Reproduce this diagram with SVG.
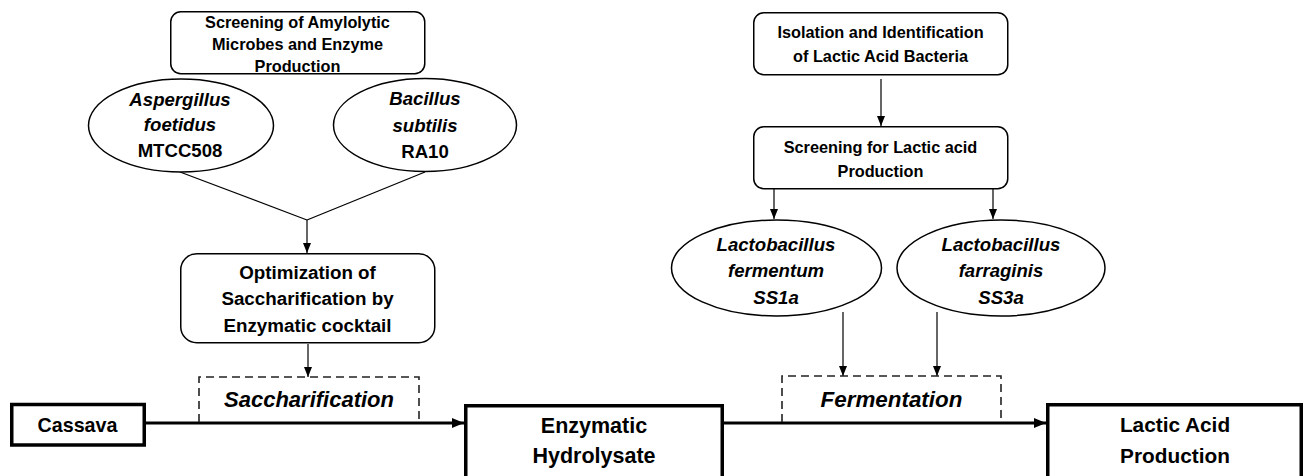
<svg xmlns="http://www.w3.org/2000/svg" width="1304" height="476" viewBox="0 0 1304 476">
<style>
text{font-family:"Liberation Sans",Arial,sans-serif;font-weight:bold;fill:#000;text-anchor:middle}
.s{font-size:16.3px}
.m{font-size:18.8px}
.e{font-size:18.6px}
.it{font-style:italic}
.l{font-size:21.5px}
.rb{fill:#fff;stroke:#000;stroke-width:1.5}
.tb{fill:#fff;stroke:#000;stroke-width:3.5}
.el{fill:#fff;stroke:#000;stroke-width:1.5}
.dash{fill:none;stroke:#222;stroke-width:1.6;stroke-dasharray:8 5}
.thin{fill:none;stroke:#000;stroke-width:1.2}
.thick{fill:none;stroke:#000;stroke-width:3.2}
</style>
<defs>
<marker id="ah" markerUnits="userSpaceOnUse" markerWidth="10" markerHeight="10" viewBox="0 0 10 10" refX="10" refY="5" orient="auto">
<path d="M0,1 L10,5 L0,9 Z" fill="#000"/>
</marker>
<marker id="ahb" markerUnits="userSpaceOnUse" markerWidth="12" markerHeight="12" viewBox="0 0 12 12" refX="12" refY="6" orient="auto">
<path d="M0,1 L12,6 L0,11 Z" fill="#000"/>
</marker>
</defs>

<g id="connectors">
<line class="thin" x1="180" y1="172" x2="307" y2="220"/>
<line class="thin" x1="425" y1="172" x2="307" y2="220"/>
<line class="thin" x1="307" y1="220" x2="307" y2="253" marker-end="url(#ah)"/>
<line class="thin" x1="308" y1="344" x2="308" y2="377" marker-end="url(#ah)"/>
<line class="thin" x1="881" y1="79" x2="881" y2="126" marker-end="url(#ah)"/>
<line class="thin" x1="774" y1="189" x2="774" y2="219" marker-end="url(#ah)"/>
<line class="thin" x1="993" y1="189" x2="993" y2="219" marker-end="url(#ah)"/>
<line class="thin" x1="843" y1="312" x2="843" y2="376" marker-end="url(#ah)"/>
<line class="thin" x1="937" y1="312" x2="937" y2="376" marker-end="url(#ah)"/>
<line class="thick" x1="146" y1="423" x2="464" y2="423" marker-end="url(#ahb)"/>
<line class="thick" x1="724" y1="423" x2="1046" y2="423" marker-end="url(#ahb)"/>
</g>

<g id="screening-amylolytic">
<rect class="rb" x="170.75" y="11.75" width="254" height="62" rx="10"/>
<text class="s" x="297.5" y="27.5">Screening of Amylolytic</text>
<text class="s" x="297.5" y="50">Microbes and Enzyme</text>
<text class="s" x="297.5" y="72">Production</text>
</g>

<g id="aspergillus">
<ellipse class="el" cx="181" cy="125.5" rx="92.5" ry="46.5"/>
<text class="e it" x="180" y="106">Aspergillus</text>
<text class="e it" x="180" y="131">foetidus</text>
<text class="e" x="180" y="157">MTCC508</text>
</g>

<g id="bacillus">
<ellipse class="el" cx="425" cy="125" rx="91.5" ry="46.5"/>
<text class="e it" x="425" y="105">Bacillus</text>
<text class="e it" x="425" y="131.5">subtilis</text>
<text class="e" x="425" y="158">RA10</text>
</g>

<g id="optimization">
<rect class="rb" x="180.75" y="253.75" width="254" height="89" rx="16"/>
<text class="m" x="307.5" y="279">Optimization of</text>
<text class="m" x="307.5" y="305">Saccharification by</text>
<text class="m" x="307.5" y="332">Enzymatic cocktail</text>
</g>

<g id="saccharification">
<path class="dash" d="M199,422 V377 H419 V422"/>
<text class="l it" x="309" y="407" style="font-size:22px">Saccharification</text>
</g>

<g id="cassava">
<rect class="tb" x="11.75" y="404.5" width="132.5" height="40.5"/>
<text class="l" x="77.5" y="432" style="font-size:19.7px">Cassava</text>
</g>

<g id="enzymatic-hydrolysate">
<rect class="tb" x="465.75" y="405.75" width="256.5" height="75"/>
<text class="l" x="594" y="433">Enzymatic</text>
<text class="l" x="594" y="463">Hydrolysate</text>
</g>

<g id="isolation">
<rect class="rb" x="753.75" y="12.75" width="254" height="62" rx="10"/>
<text class="s" x="880.5" y="38">Isolation and Identification</text>
<text class="s" x="880.5" y="62">of Lactic Acid Bacteria</text>
</g>

<g id="screening-lactic">
<rect class="rb" x="753.75" y="126.75" width="254" height="62" rx="10"/>
<text class="s" x="880.5" y="153">Screening for Lactic acid</text>
<text class="s" x="880.5" y="177">Production</text>
</g>

<g id="fermentum">
<ellipse class="el" cx="776.5" cy="268" rx="105" ry="48"/>
<text class="e it" x="776" y="251">Lactobacillus</text>
<text class="e it" x="776" y="277">fermentum</text>
<text class="e it" x="776" y="304">SS1a</text>
</g>

<g id="farraginis">
<ellipse class="el" cx="1001" cy="268" rx="104" ry="48"/>
<text class="e it" x="1001" y="251">Lactobacillus</text>
<text class="e it" x="1001" y="277">farraginis</text>
<text class="e it" x="1001" y="304">SS3a</text>
</g>

<g id="fermentation">
<path class="dash" d="M782,422 V376 H1001 V422"/>
<text class="l it" x="891.5" y="407" style="font-size:22.4px">Fermentation</text>
</g>

<g id="lactic-acid-production">
<rect class="tb" x="1047.75" y="404.75" width="253.5" height="76"/>
<text class="l" x="1175" y="432" style="font-size:20.8px">Lactic Acid</text>
<text class="l" x="1175" y="463" style="font-size:20.8px">Production</text>
</g>
</svg>
